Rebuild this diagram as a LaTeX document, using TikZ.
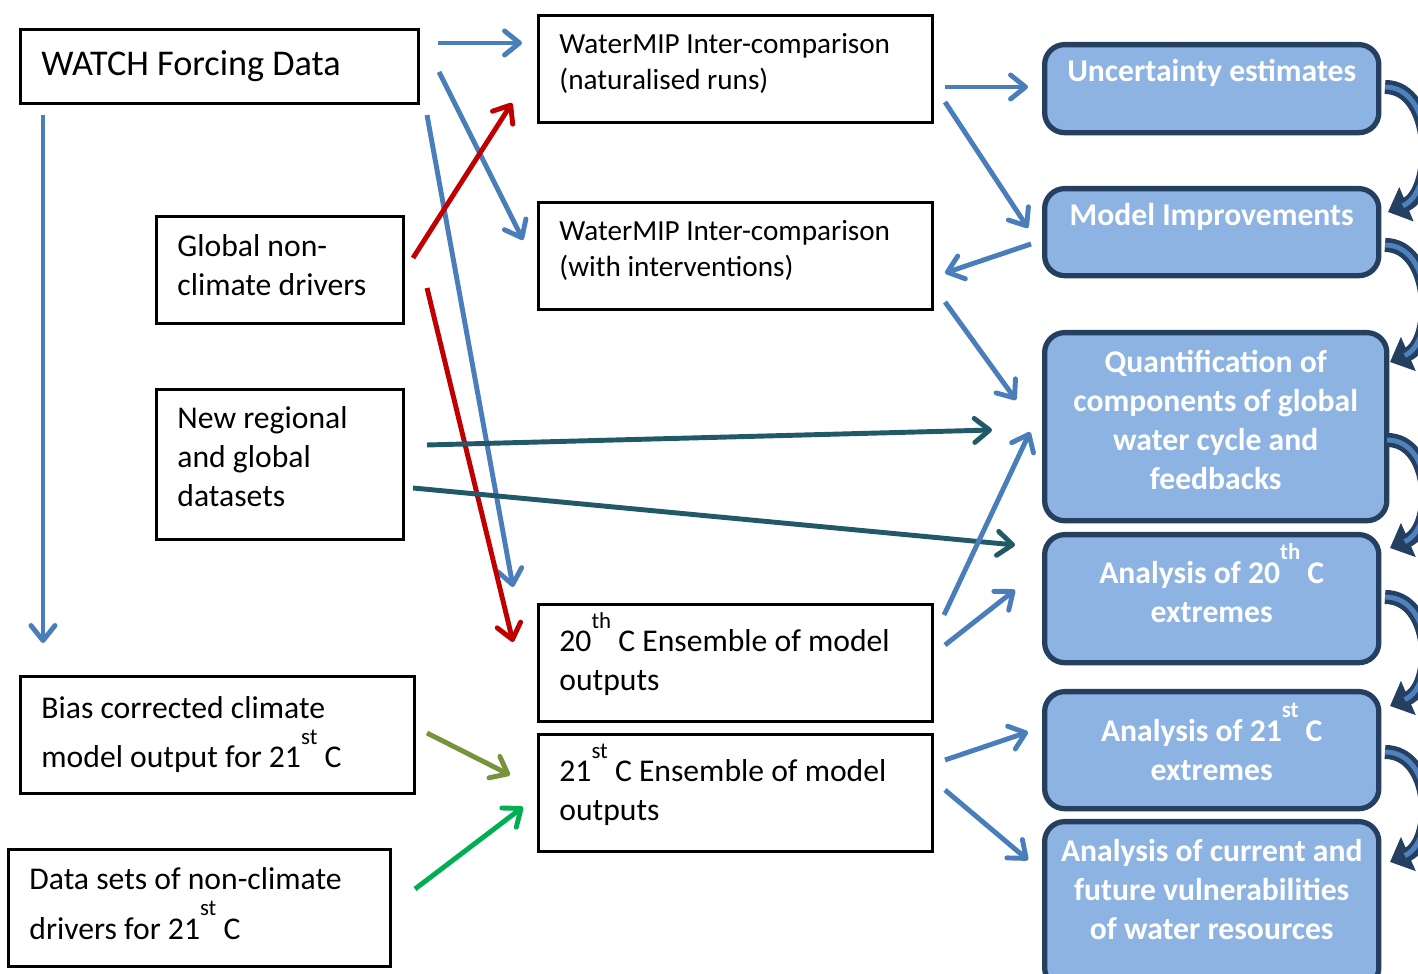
\documentclass[tikz,border=0pt]{standalone}
\usepackage{fontspec}
\setmainfont{Carlito}
\usepackage{tikz}
\usetikzlibrary{arrows.meta}
\definecolor{flowblue}{HTML}{4A7EBB}
\definecolor{flowred}{HTML}{C00000}
\definecolor{flowteal}{HTML}{215968}
\definecolor{flowolive}{HTML}{77933C}
\definecolor{flowgreen}{HTML}{00B050}
\definecolor{taskfill}{HTML}{8DB3E2}
\definecolor{taskline}{HTML}{243F60}
\definecolor{loopmid}{HTML}{4F81BD}
\newcommand{\sups}[1]{\smash{\raisebox{0.75em}{\fontsize{6.5pt}{6.5pt}\selectfont #1}}}

\begin{document}
\begin{tikzpicture}[x=0.01cm, y=-0.01cm,
  inbox/.style={draw, line width=0.8pt, anchor=north west, align=flush left,
    inner xsep=0.21cm, inner ysep=0pt, font=\fontsize{9pt}{11.1pt}\selectfont},
  outbox/.style={draw=taskline, line width=1.5pt, fill=taskfill, rounded corners=0.2cm,
    anchor=north west, align=center, text=white, inner sep=0pt,
    font=\fontsize{9pt}{11.1pt}\selectfont\bfseries},
  flow/.style={line width=1.4pt, -{Straight Barb[length=0.15cm, width=0.24cm, round]}},
  loop/.style={line width=4pt, draw=taskline, -{Triangle[length=0.2cm, width=0.36cm]}},
  loopin/.style={line width=1.4pt, draw=loopmid, shorten >=0.16cm}]
  \useasboundingbox (0,0) rectangle (1418,974);

  \node[inbox, text width=3.56cm, minimum height=0.74cm, font=\fontsize{10.3pt}{12pt}\selectfont] (watch) at (19,28) {WATCH Forcing Data};
  \node[inbox, text width=2.05cm, minimum height=1.07cm, text depth=0.48cm] (nonclim) at (155,215) {Global non-\\climate drivers};
  \node[inbox, text width=2.05cm, minimum height=1.5cm, text depth=0.94cm] (newdata) at (155,388) {New regional\\and global\\datasets};
  \node[inbox, text width=3.52cm, minimum height=1.17cm, font=\fontsize{9pt}{14pt}\selectfont] (bias) at (19,675) {Bias corrected climate\\model output for 21\sups{st} C};
  \node[inbox, text width=3.40cm, minimum height=1.17cm, text depth=0.58cm, font=\fontsize{9pt}{14pt}\selectfont] (nonclim21) at (7,848) {Data sets of non-climate\\drivers for 21\sups{st} C};

  \node[inbox, text width=3.52cm, minimum height=1.07cm, text depth=0.51cm, font=\fontsize{8.3pt}{10.2pt}\selectfont] (natruns) at (537,14) {WaterMIP Inter-comparison\\(naturalised runs)};
  \node[inbox, text width=3.52cm, minimum height=1.07cm, text depth=0.51cm, font=\fontsize{8.3pt}{10.2pt}\selectfont] (intruns) at (537,201) {WaterMIP Inter-comparison\\(with interventions)};
  \node[inbox, text width=3.52cm, minimum height=1.17cm] (ens20) at (537,603) {20\sups{th} C Ensemble of model\\outputs};
  \node[inbox, text width=3.52cm, minimum height=1.17cm] (ens21) at (537,733) {21\sups{st} C Ensemble of model\\outputs};

  \node[outbox, minimum width=3.34cm, minimum height=0.88cm, text depth=0.37cm] (uncert) at (1042,42) {Uncertainty estimates};
  \node[outbox, minimum width=3.34cm, minimum height=0.87cm, text depth=0.36cm] (improve) at (1042,186) {Model Improvements};
  \node[outbox, minimum width=3.42cm, minimum height=1.88cm, text depth=0.14cm] (quant) at (1042,330) {Quantification of\\components of global\\water cycle and\\feedbacks};
  \node[outbox, minimum width=3.34cm, minimum height=1.28cm, text depth=0.14cm] (extr20) at (1042,532) {Analysis of 20\sups{th} C\\extremes};
  \node[outbox, minimum width=3.34cm, minimum height=1.17cm] (extr21) at (1042,689) {Analysis of 21\sups{st} C\\extremes};
  \node[outbox, minimum width=3.34cm, minimum height=1.66cm, text depth=0.31cm] (vuln) at (1042,819) {Analysis of current and\\future vulnerabilities\\of water resources};

  \coordinate (watch-a) at (438,43);   \coordinate (nat-a) at (522,43);
  \coordinate (watch-b) at (439,72);   \coordinate (int-a) at (523,240);
  \coordinate (watch-c) at (43,115);   \coordinate (bias-a) at (43,643);
  \coordinate (watch-d) at (427,115);  \coordinate (ens20-a) at (513,587);
  \coordinate (nonclim-a) at (413,258); \coordinate (nat-b) at (512,103);
  \coordinate (nonclim-b) at (427,288); \coordinate (ens20-b) at (513,642);
  \coordinate (newdata-a) at (427,445); \coordinate (quant-a) at (992,430);
  \coordinate (newdata-b) at (413,488); \coordinate (extr20-a) at (1015,545);
  \coordinate (bias-b) at (427,733);   \coordinate (ens21-a) at (510,775);
  \coordinate (nonclim21-a) at (415,889); \coordinate (ens21-b) at (523,807);
  \coordinate (nat-c) at (945,87);     \coordinate (uncert-a) at (1028,87);
  \coordinate (nat-d) at (945,102);    \coordinate (improve-a) at (1028,228);
  \coordinate (improve-b) at (1031,244); \coordinate (int-b) at (945,273);
  \coordinate (int-c) at (945,302);    \coordinate (quant-b) at (1016,400);
  \coordinate (ens20-c) at (944,615);  \coordinate (quant-c) at (1030,432);
  \coordinate (ens20-d) at (945,645);  \coordinate (extr20-b) at (1015,590);
  \coordinate (ens21-c) at (945,760);  \coordinate (extr21-a) at (1028,732);
  \coordinate (ens21-d) at (945,790);  \coordinate (vuln-a) at (1028,860);

  \draw[flow, flowblue] (watch-a) -- (nat-a);
  \draw[flow, flowblue] (watch-b) -- (int-a);
  \draw[flow, flowblue] (watch-c) -- (bias-a);
  \draw[flow, flowblue] (watch-d) -- (ens20-a);
  \draw[flow, flowred] (nonclim-a) -- (nat-b);
  \draw[flow, flowred] (nonclim-b) -- (ens20-b);
  \draw[flow, flowteal] (newdata-a) -- (quant-a);
  \draw[flow, flowteal] (newdata-b) -- (extr20-a);
  \draw[flow, flowolive] (bias-b) -- (ens21-a);
  \draw[flow, flowgreen] (nonclim21-a) -- (ens21-b);

  \draw[flow, flowblue] (nat-c) -- (uncert-a);
  \draw[flow, flowblue] (nat-d) -- (improve-a);
  \draw[flow, flowblue] (improve-b) -- (int-b);
  \draw[flow, flowblue] (int-c) -- (quant-b);
  \draw[flow, flowblue] (ens20-c) -- (quant-c);
  \draw[flow, flowblue] (ens20-d) -- (extr20-b);
  \draw[flow, flowblue] (ens21-c) -- (extr21-a);
  \draw[flow, flowblue] (ens21-d) -- (vuln-a);

  \coordinate (uncert-l) at (1385,87);  \coordinate (improve-l) at (1388,212);
  \coordinate (improve-m) at (1385,245); \coordinate (quant-l) at (1390,362);
  \coordinate (quant-m) at (1387,440);  \coordinate (extr20-l) at (1390,548);
  \coordinate (extr20-m) at (1385,597); \coordinate (extr21-l) at (1390,706);
  \coordinate (extr21-m) at (1385,752); \coordinate (vuln-l) at (1390,862);

  \draw[loop] (uncert-l) .. controls (1436,87) and (1436,192) .. (improve-l);
  \draw[loopin] (uncert-l) .. controls (1436,87) and (1436,192) .. (improve-l);
  \draw[loop] (improve-m) .. controls (1434,245) and (1436,342) .. (quant-l);
  \draw[loopin] (improve-m) .. controls (1434,245) and (1436,342) .. (quant-l);
  \draw[loop] (quant-m) .. controls (1434,440) and (1436,528) .. (extr20-l);
  \draw[loopin] (quant-m) .. controls (1434,440) and (1436,528) .. (extr20-l);
  \draw[loop] (extr20-m) .. controls (1434,597) and (1436,686) .. (extr21-l);
  \draw[loopin] (extr20-m) .. controls (1434,597) and (1436,686) .. (extr21-l);
  \draw[loop] (extr21-m) .. controls (1434,752) and (1436,842) .. (vuln-l);
  \draw[loopin] (extr21-m) .. controls (1434,752) and (1436,842) .. (vuln-l);
\end{tikzpicture}
\end{document}
